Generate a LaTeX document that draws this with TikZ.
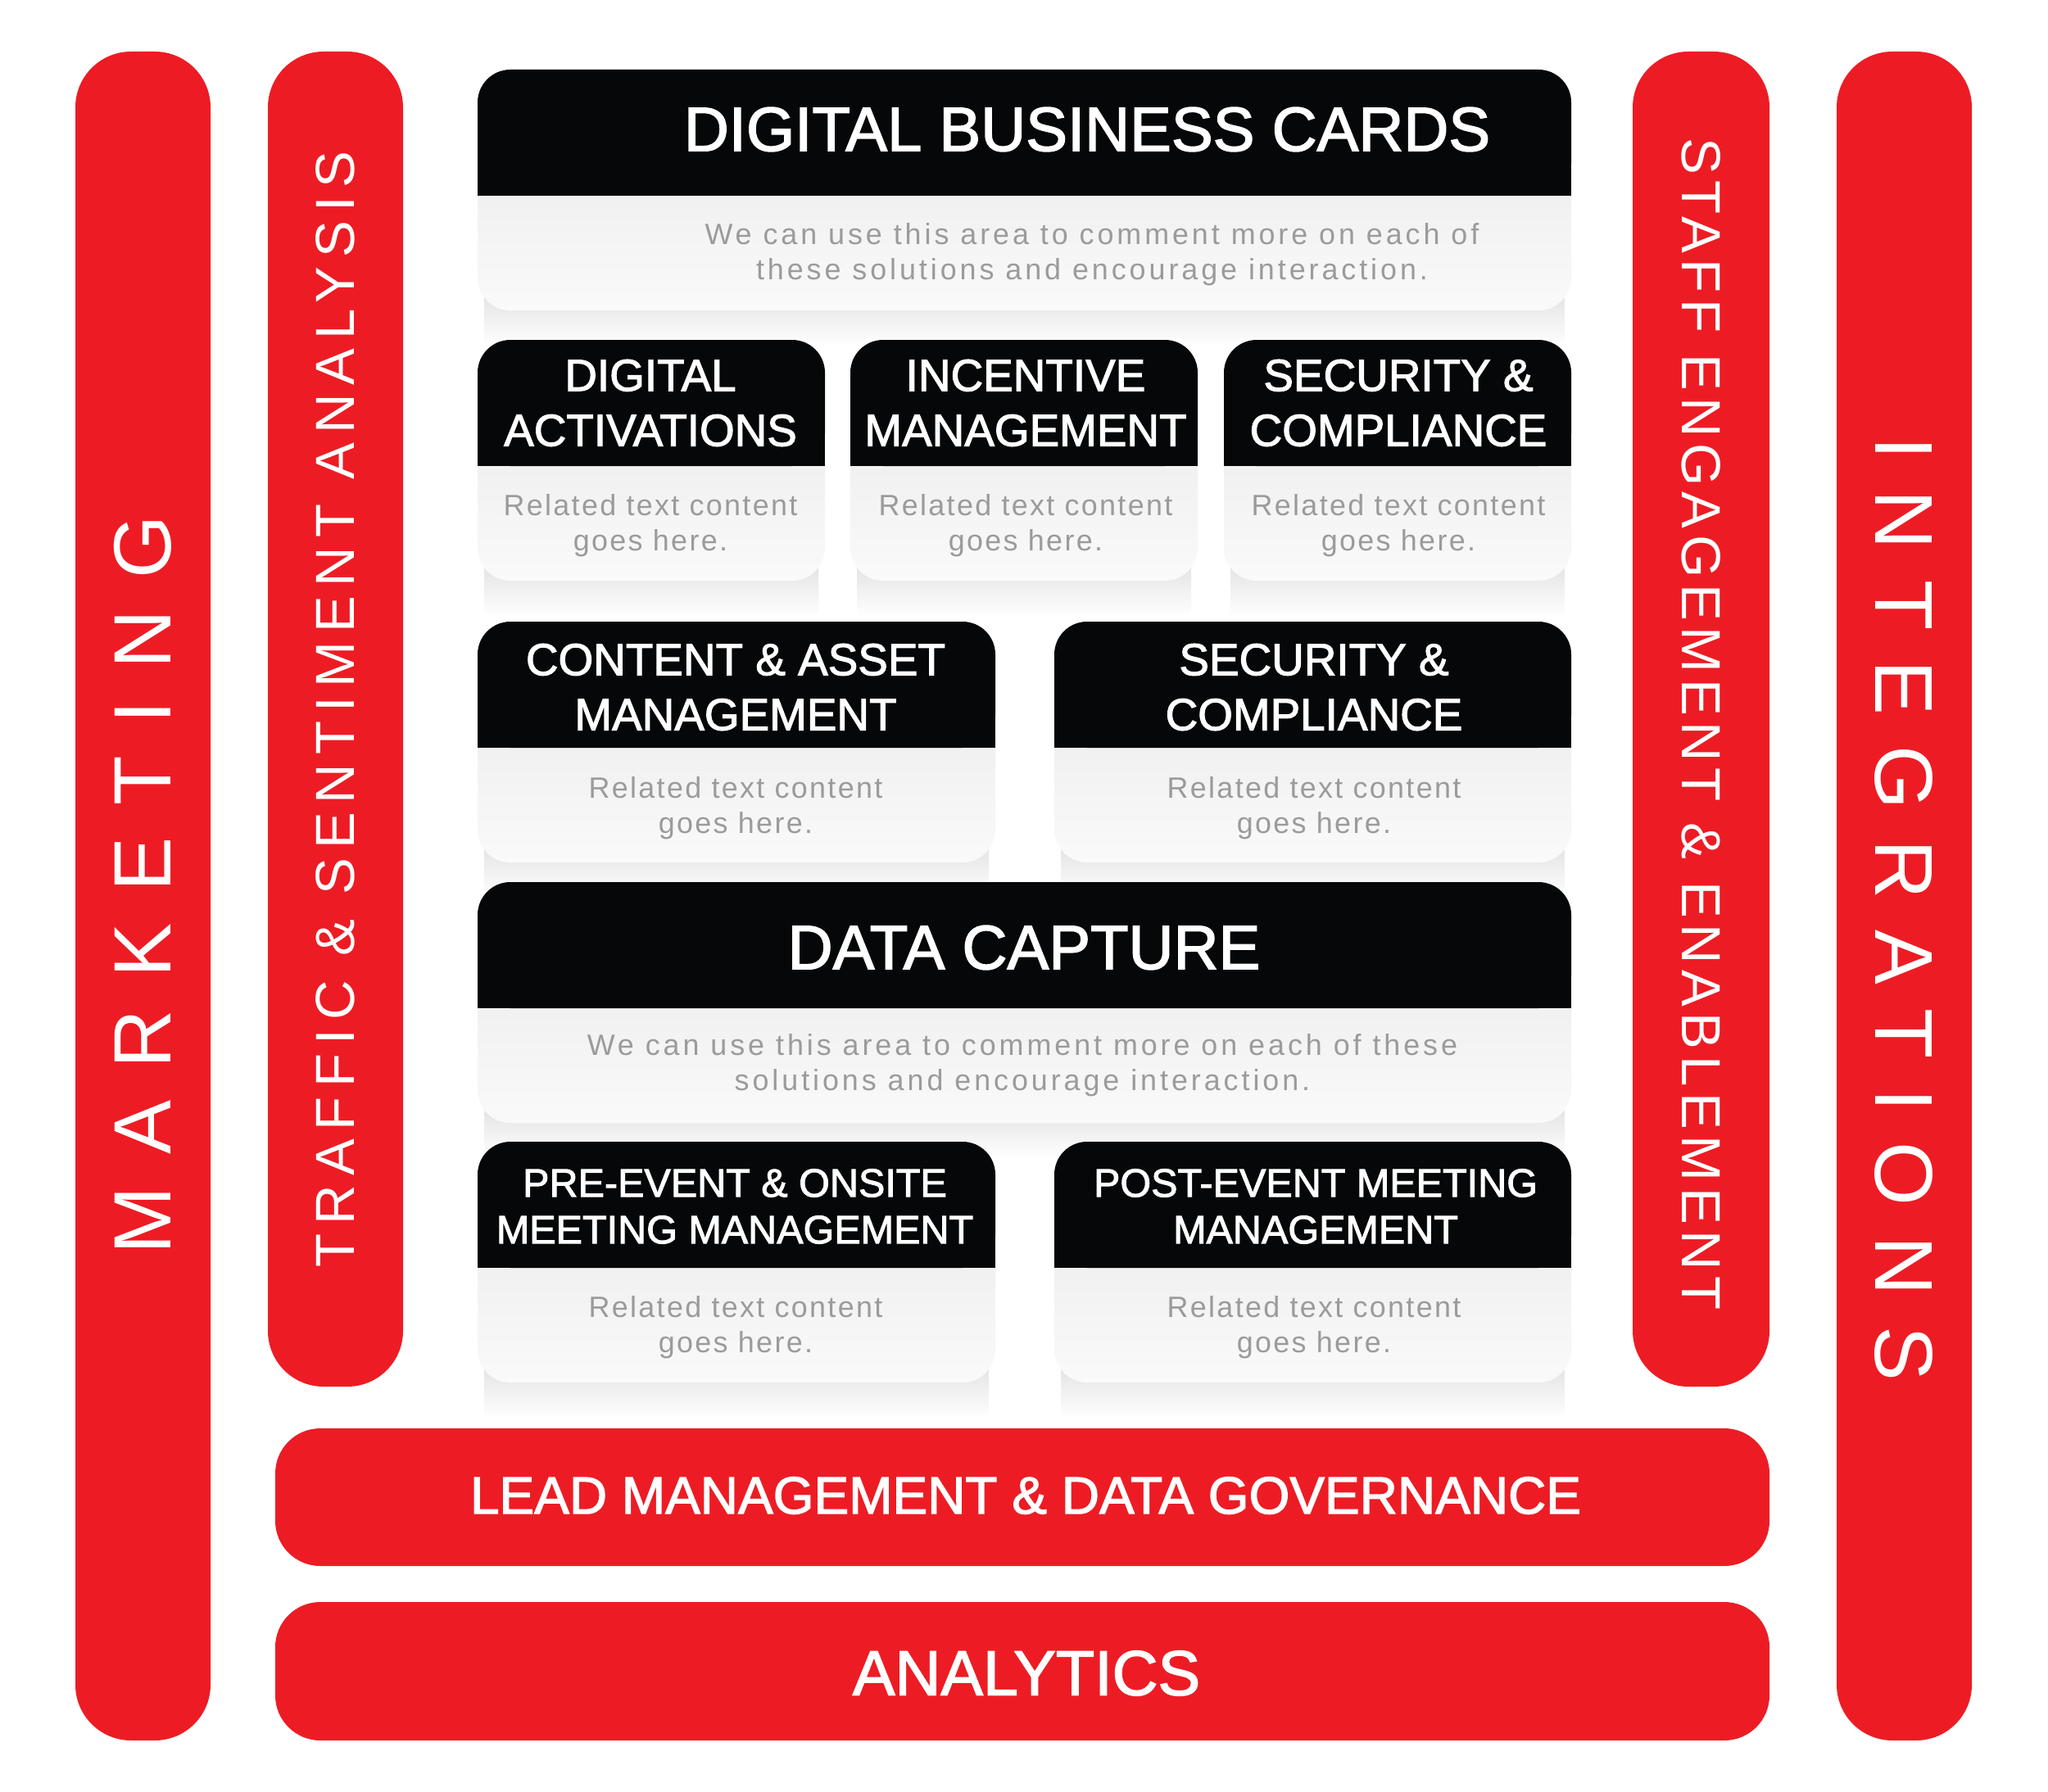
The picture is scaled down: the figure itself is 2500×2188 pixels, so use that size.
\documentclass[tikz,border=0pt]{standalone}
\usepackage{fontspec}
\setmainfont{Liberation Sans}
\definecolor{brandred}{HTML}{ED1C24}
\definecolor{headblack}{HTML}{050708}
\definecolor{notegray}{HTML}{9B9B9B}

\begin{document}
\begin{tikzpicture}
[x=0.01cm,y=-0.01cm,
bar/.style={fill=brandred,rounded corners=0.68cm},
flatbar/.style={fill=brandred,rounded corners=0.55cm},
barlabel/.style={text=white,inner sep=0pt},
cardhead/.style={fill=headblack,rounded corners=0.4cm},
cardbody/.style={top color=black!7,bottom color=black!2,rounded corners=0.4cm},
cardshadow/.style={top color=black!15,bottom color=white},
title/.style={text=white,inner sep=0pt,font={\fontsize{21.65}{24}\selectfont\addfontfeature{FakeBold=2}}},
heading/.style={text=white,inner sep=0pt,align=center,font={\fontsize{15.6}{19.1}\selectfont\addfontfeature{FakeBold=2}}},
smallheading/.style={heading,font={\fontsize{13.8}{16.2}\selectfont\addfontfeature{FakeBold=2}}},
note/.style={text=notegray,inner sep=0pt,align=center,font={\fontsize{10.2}{12.2}\selectfont\addfontfeature{LetterSpace=6.5}}},
widenote/.style={note,font={\fontsize{10.2}{12.2}\selectfont\addfontfeature{LetterSpace=11}}}]

\useasboundingbox (0,0) rectangle (2500,2188);

% Drawing cards
\foreach \name/\x/\y/\w in {dbc/583/85/1335, act/583/415/424, inc/1038/415/424, sec/1494/415/424,
  cam/583/759/632, seq/1287/759/631, dcap/583/1077/1335, pre/583/1394/632, post/1287/1394/631} {
	\shade[cardshadow] (\x+8,\y+250) rectangle (\x+\w-8,\y+338);
	\shade[cardbody] (\x,\y+100) rectangle (\x+\w,\y+294);
	\fill[cardhead] (\x,\y) rectangle (\x+\w,\y+154);
	\fill[headblack] (\x,\y+100) rectangle (\x+\w,\y+154);
}

\node[title] (dbc-title) at (1327,158) {DIGITAL BUSINESS CARDS};
\node[widenote] (dbc-note) at (1333,311) {We can use this area to comment more on each of\\these solutions and encourage interaction.};

\node[heading] (act-title) at (794,492) {DIGITAL\\ACTIVATIONS};
\node[note] (act-note) at (794,642) {Related text content\\goes here.};
\node[heading] (inc-title) at (1252,492) {INCENTIVE\\MANAGEMENT};
\node[note] (inc-note) at (1252,642) {Related text content\\goes here.};
\node[heading] (sec-title) at (1707,492) {SECURITY \&\\COMPLIANCE};
\node[note] (sec-note) at (1707,642) {Related text content\\goes here.};

\node[heading] (cam-title) at (898,839) {CONTENT \& ASSET\\MANAGEMENT};
\node[note] (cam-note) at (898,987) {Related text content\\goes here.};
\node[heading] (seq-title) at (1604,839) {SECURITY \&\\COMPLIANCE};
\node[note] (seq-note) at (1604,987) {Related text content\\goes here.};

\node[title] (dcap-title) at (1250,1157) {DATA CAPTURE};
\node[widenote] (dcap-note) at (1248,1301) {We can use this area to comment more on each of these\\solutions and encourage interaction.};

\node[smallheading] (pre-title) at (897,1473) {PRE-EVENT \& ONSITE\\MEETING MANAGEMENT};
\node[note] (pre-note) at (898,1621) {Related text content\\goes here.};
\node[smallheading] (post-title) at (1606,1473) {POST-EVENT MEETING\\MANAGEMENT};
\node[note] (post-note) at (1604,1621) {Related text content\\goes here.};

% Drawing bars
\fill[bar] (92,63) rectangle (257,2125);
\fill[bar] (327,63) rectangle (492,1693);
\fill[bar] (1993,63) rectangle (2160,1693);
\fill[bar] (2242,63) rectangle (2407,2125);
\fill[flatbar] (336,1744) rectangle (2160,1912);
\fill[flatbar] (336,1956) rectangle (2160,2125);

\node[barlabel,rotate=90,font={\fontsize{28.2}{30}\selectfont\addfontfeature{LetterSpace=39.4}}] (marketing) at (174,1080) {MARKETING};
\node[barlabel,rotate=90,font={\fontsize{19.1}{21}\selectfont\addfontfeature{LetterSpace=16.6}}] (traffic) at (409,866) {TRAFFIC \& SENTIMENT ANALYSIS};
\node[barlabel,rotate=-90,font={\fontsize{19.1}{21}\selectfont\addfontfeature{LetterSpace=11.3}}] (staff) at (2077,884) {STAFF ENGAGEMENT \& ENABLEMENT};
\node[barlabel,rotate=-90,font={\fontsize{28.5}{30}\selectfont\addfontfeature{LetterSpace=37}}] (integrations) at (2324,1110) {INTEGRATIONS};
\node[barlabel,font={\fontsize{18.2}{20}\selectfont\addfontfeature{FakeBold=2}}] (lead) at (1252,1826) {LEAD MANAGEMENT \& DATA GOVERNANCE};
\node[barlabel,font={\fontsize{22}{24}\selectfont\addfontfeature{FakeBold=2}}] (analytics) at (1253,2043) {ANALYTICS};
\end{tikzpicture}
\end{document}
